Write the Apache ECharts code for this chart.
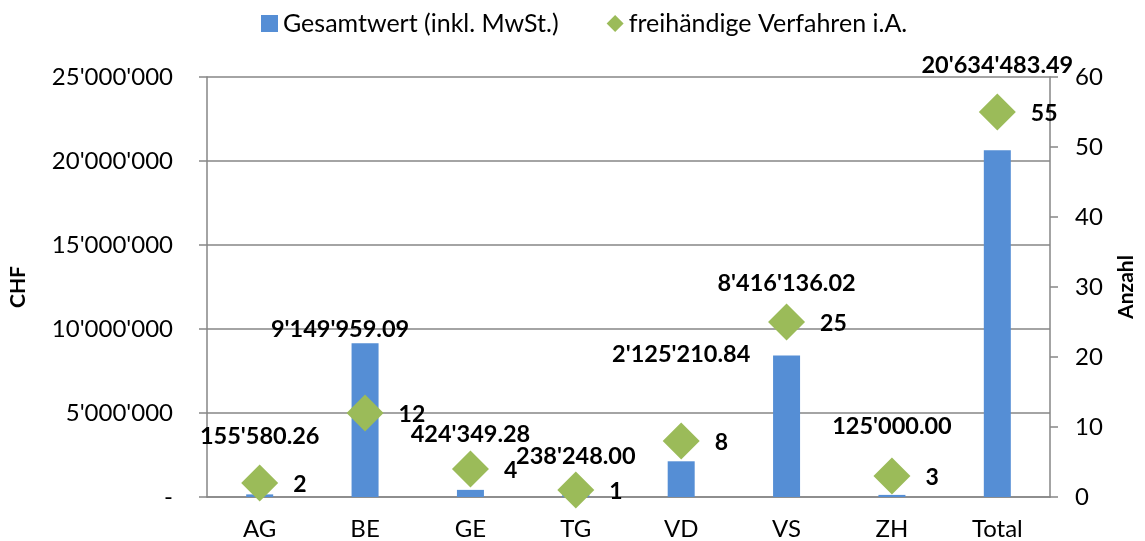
<!DOCTYPE html>
<html>
<head>
<meta charset="utf-8">
<script src="https://cdn.jsdelivr.net/npm/echarts@6/dist/echarts.min.js"></script>
<style>
  html, body { margin: 0; padding: 0; background: #fff; }
  #chart { width: 1145px; height: 541px; }
</style>
</head>
<body>
<div id="chart"></div>
<script>
// Kantone
var categories = ['AG', 'BE', 'GE', 'TG', 'VD', 'VS', 'ZH', 'Total'];
// Gesamtwert (inkl. MwSt.) in CHF
var gesamtwert = [155580.26, 9149959.09, 424349.28, 238248.00, 2125210.84, 8416136.02, 125000.00, 20634483.49];
// Anzahl freihändige Verfahren
var anzahl = [2, 12, 4, 1, 8, 25, 3, 55];

// Label-Verschiebungen wie im Original (manuell platziert)
var labelShift = [[0, -46], [-25, -2], [0, -43], [0, -25], [0, -95], [0, -60], [0, -56], [0, -73]];

var FONT = 'Lato';
var GRAY = '#868686';

function chf(v, dec) {
    var parts = v.toFixed(dec).split('.');
    var s = parts[0].replace(/\B(?=(\d{3})+(?!\d))/g, "'");
    return parts.length > 1 ? s + '.' + parts[1] : s;
}

var chart = echarts.init(document.getElementById('chart'));

var barData = gesamtwert.map(function (v, i) {
    return {
        value: v,
        label: { offset: labelShift[i] }
    };
});

var option = {
    animation: false,
    textStyle: { fontFamily: FONT },
    legend: {
        top: 6,
        left: 256,
        itemWidth: 17,
        itemHeight: 17,
        itemGap: 48,
        textStyle: { fontFamily: FONT, fontSize: 25, color: '#000' },
        data: [
            { name: 'Gesamtwert (inkl. MwSt.)', icon: 'rect' },
            { name: 'freihändige Verfahren i.A.', icon: 'diamond' }
        ]
    },
    grid: { left: 202, right: 90, top: 77, bottom: 44 },
    xAxis: {
        type: 'category',
        data: categories,
        axisLine: { lineStyle: { color: GRAY, width: 1.5 } },
        axisTick: { show: false },
        axisLabel: { color: '#000', fontSize: 24, margin: 20, fontFamily: FONT }
    },
    yAxis: [
        {
            type: 'value',
            min: 0, max: 25000000, interval: 5000000,
            name: 'CHF',
            nameLocation: 'middle',
            nameGap: 178,
            nameTextStyle: { fontWeight: 'bold', fontSize: 21, color: '#000', fontFamily: FONT },
            axisLine: { show: true, lineStyle: { color: GRAY, width: 1.5 } },
            axisTick: { show: true, inside: false, length: 8, lineStyle: { color: GRAY, width: 1.5 } },
            axisLabel: {
                color: '#000', fontSize: 24, margin: 34, fontFamily: FONT,
                formatter: function (v) { return v === 0 ? '-' : chf(v, 0); }
            },
            splitLine: { show: true, lineStyle: { color: GRAY, width: 1.5 } }
        },
        {
            type: 'value',
            min: 0, max: 60, interval: 10,
            name: 'Anzahl',
            nameLocation: 'middle',
            nameRotate: 90,
            nameGap: 66,
            nameTextStyle: { fontWeight: 'bold', fontSize: 21, color: '#000', fontFamily: FONT },
            axisLine: { show: true, lineStyle: { color: GRAY, width: 1.5 } },
            axisTick: { show: true, inside: false, length: 8, lineStyle: { color: GRAY, width: 1.5 } },
            axisLabel: { color: '#000', fontSize: 24, margin: 25, fontFamily: FONT },
            splitLine: { show: false }
        }
    ],
    series: [
        {
            name: 'Gesamtwert (inkl. MwSt.)',
            type: 'bar',
            yAxisIndex: 0,
            barWidth: 27,
            data: barData,
            itemStyle: { color: '#558ED5' },
            label: {
                show: true,
                position: 'top',
                distance: 0,
                fontFamily: FONT,
                fontWeight: 'bold',
                fontSize: 23.5,
                color: '#000',
                formatter: function (p) { return chf(p.value, 2); }
            },
            z: 2
        },
        {
            name: 'freihändige Verfahren i.A.',
            type: 'scatter',
            yAxisIndex: 1,
            symbol: 'diamond',
            symbolSize: [37, 37],
            data: anzahl,
            itemStyle: { color: '#9BBB59', opacity: 1 },
            label: {
                show: true,
                position: 'right',
                distance: 15,
                offset: [0, 2],
                fontFamily: FONT,
                fontWeight: 'bold',
                fontSize: 23,
                color: '#000'
            },
            z: 3
        }
    ]
};

chart.setOption(option);
</script>
</body>
</html>
